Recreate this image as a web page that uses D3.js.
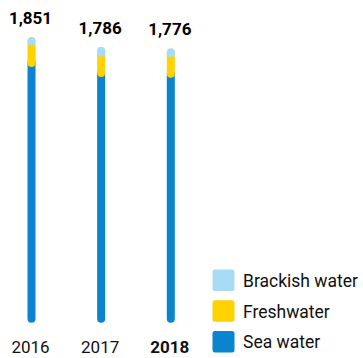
<!DOCTYPE html>
<html>
<head>
<meta charset="utf-8">
<script src="https://cdn.jsdelivr.net/npm/d3@7"></script>
<style>
  html, body { margin: 0; padding: 0; background: #fff; }
  svg { display: block; font-family: Roboto, "Liberation Sans", sans-serif; }
</style>
</head>
<body>
<svg id="chart" width="363" height="358"></svg>
<script>
// Water withdrawals by source (million m³)
const years = ["2016", "2017", "2018"];
const seaWater = [1705, 1638, 1633];
const freshwater = [143, 135, 136];
const brackishWater = [3, 13, 7];
const totals = [1851, 1786, 1776];
const totalLabels = ["1,851", "1,786", "1,776"];
const highlightYear = "2018";

const seriesNames = ["Sea water", "Freshwater", "Brackish water"];
const colors = { "Sea water": "#0a84cf", "Freshwater": "#ffd200", "Brackish water": "#a8dcf6" };

const rows = years.map((y, i) => ({
  year: y,
  "Sea water": seaWater[i],
  "Freshwater": freshwater[i],
  "Brackish water": brackishWater[i],
  total: totals[i],
  label: totalLabels[i]
}));

const svg = d3.select("#chart");
const barWidth = 8, cap = barWidth / 2;

const x = d3.scalePoint().domain(years).range([31.5, 170.8]);
const y = d3.scaleLinear().domain([0, 1851]).range([318.7, 318.7 - 1851 * 0.15]);

const stack = d3.stack().keys(seriesNames);
const layers = stack(rows);

// Each segment is a round-capped stroke; later layers sit on top of earlier ones
const g = svg.append("g");
layers.forEach(layer => {
  g.selectAll(null)
    .data(layer)
    .join("line")
    .attr("x1", d => x(d.data.year))
    .attr("x2", d => x(d.data.year))
    .attr("y1", d => y(d[0]))
    .attr("y2", d => y(d[1]))
    .attr("stroke", colors[layer.key])
    .attr("stroke-width", barWidth)
    .attr("stroke-linecap", "round");
});

// Total value above each bar
svg.selectAll(".total")
  .data(rows)
  .join("text")
  .attr("class", "total")
  .attr("x", d => x(d.year) - 1)
  .attr("y", d => y(d.total) - cap - 13)
  .attr("text-anchor", "middle")
  .attr("font-size", 17)
  .attr("font-weight", 700)
  .attr("fill", "#000")
  .text(d => d.label);

// Year axis labels
const xAxis = d3.axisBottom(x).tickSize(0).tickPadding(0);
const axisG = svg.append("g").attr("transform", "translate(-1.5,353)").call(xAxis);
axisG.select(".domain").remove();
axisG.selectAll("text")
  .attr("dy", 0)
  .attr("font-family", "Roboto, sans-serif")
  .attr("font-size", 17)
  .attr("fill", "#111")
  .attr("font-weight", d => d === highlightYear ? 700 : 400);

// Legend
const legendItems = ["Brackish water", "Freshwater", "Sea water"];
const legend = svg.append("g").attr("transform", "translate(212.5,269.5)");
const item = legend.selectAll("g")
  .data(legendItems)
  .join("g")
  .attr("transform", (d, i) => `translate(0,${i * 30.7})`);
item.append("rect")
  .attr("width", 22)
  .attr("height", 21.5)
  .attr("rx", 2.5)
  .attr("fill", d => colors[d]);
item.append("text")
  .attr("x", 30.5)
  .attr("y", 17.5)
  .attr("font-size", 17.5)
  .attr("fill", "#111")
  .text(d => d);
</script>
</body>
</html>
